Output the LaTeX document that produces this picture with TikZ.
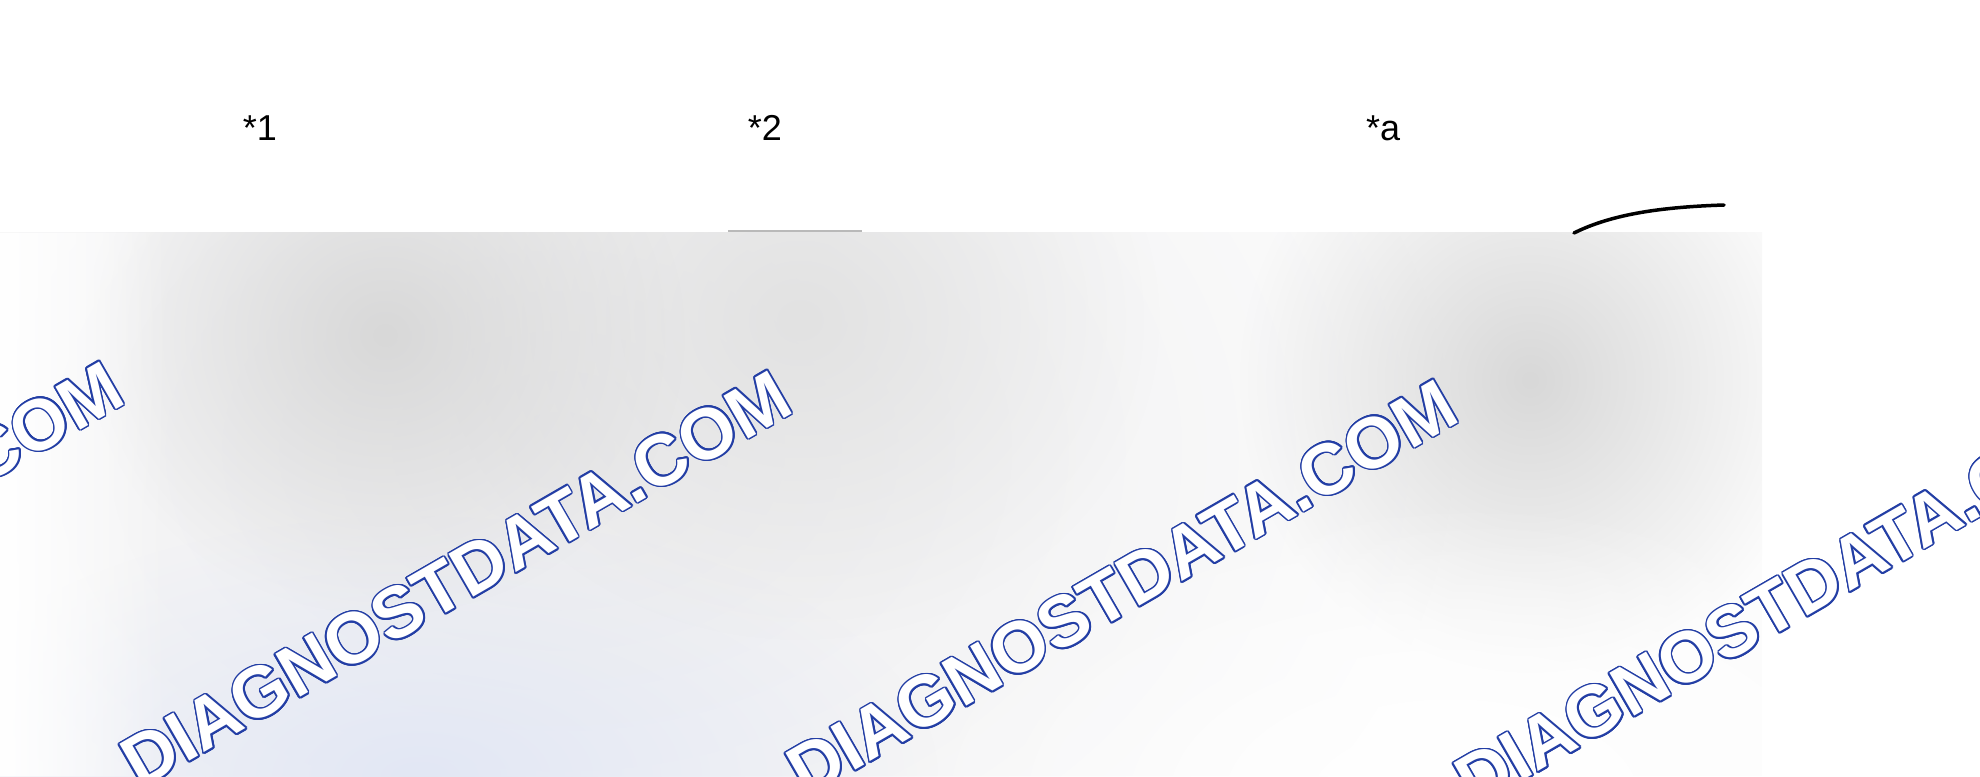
\documentclass[tikz,border=0pt]{standalone}
\usepackage{fontspec}
\setmainfont{Liberation Sans}
\usetikzlibrary{fadings}
\tikzfading[name=blobfade, inner color=transparent!0, outer color=transparent!100]
\tikzfading[name=fadeR, left color=transparent!0, right color=transparent!100]
\definecolor{wmblue}{RGB}{35,62,165}
\definecolor{bandbase}{RGB}{252,252,252}
\definecolor{wide}{RGB}{236,236,238}
\definecolor{blobgray}{RGB}{216,216,216}
\definecolor{midgray}{RGB}{226,226,226}
\definecolor{bluetint}{RGB}{226,231,244}
\newcommand\wmk[3]{%
  \foreach \a in {0,22.5,...,337.5}{%
    \node[wmfont, text=wmblue, xshift={1.6*cos(\a)*1pt}, yshift={1.6*sin(\a)*1pt}] at (#2,#3) {DIAGNOSTDATA.COM};
  }%
  \node[wmfont, text=white] (#1) at (#2,#3) {DIAGNOSTDATA.COM};
}
\begin{document}
\begin{tikzpicture}[x=1pt,y=-1pt,
  lbl/.style={font=\fontsize{36}{36}\selectfont, inner sep=0pt, anchor=base},
  wmfont/.style={font=\fontsize{72}{72}\selectfont\bfseries, inner sep=0pt, rotate=30}]
\useasboundingbox (0,0) rectangle (1980,776);
\fill[white] (0,0) rectangle (1980,776);

% blurred band
\begin{scope}
  \clip (0,232) rectangle (1762,776);
  \fill[bandbase] (0,232) rectangle (1762,776);
  \fill[wide, path fading=blobfade] (560,450) ellipse [x radius=900, y radius=640];
  \fill[bluetint, path fading=blobfade] (420,776) ellipse [x radius=520, y radius=260];
  \fill[midgray, path fading=blobfade] (800,320) ellipse [x radius=360, y radius=320];
  \fill[blobgray, path fading=blobfade] (385,335) ellipse [x radius=300, y radius=280];
  \fill[blobgray, path fading=blobfade] (1530,380) ellipse [x radius=290, y radius=300];
  \fill[white, path fading=blobfade] (1450,800) ellipse [x radius=560, y radius=300];
  \fill[white, path fading=fadeR] (0,232) rectangle (170,776);
\end{scope}
\draw[gray!55, line width=2pt] (728,231) -- (862,231);

% curve at top right
\draw[black, line width=3.5pt, line cap=round] (1574,233) .. controls (1612,214) and (1662,207) .. (1724,205);

% labels
\node[lbl] (s1) at (260,140) {*1};
\node[lbl] (s2) at (765,140) {*2};
\node[lbl] (sa) at (1383,140) {*a};

% watermarks
\wmk{w1}{-212}{570}
\wmk{w2}{456}{579}
\wmk{w3}{1122}{588}
\wmk{w4}{1790}{598}
\end{tikzpicture}
\end{document}
